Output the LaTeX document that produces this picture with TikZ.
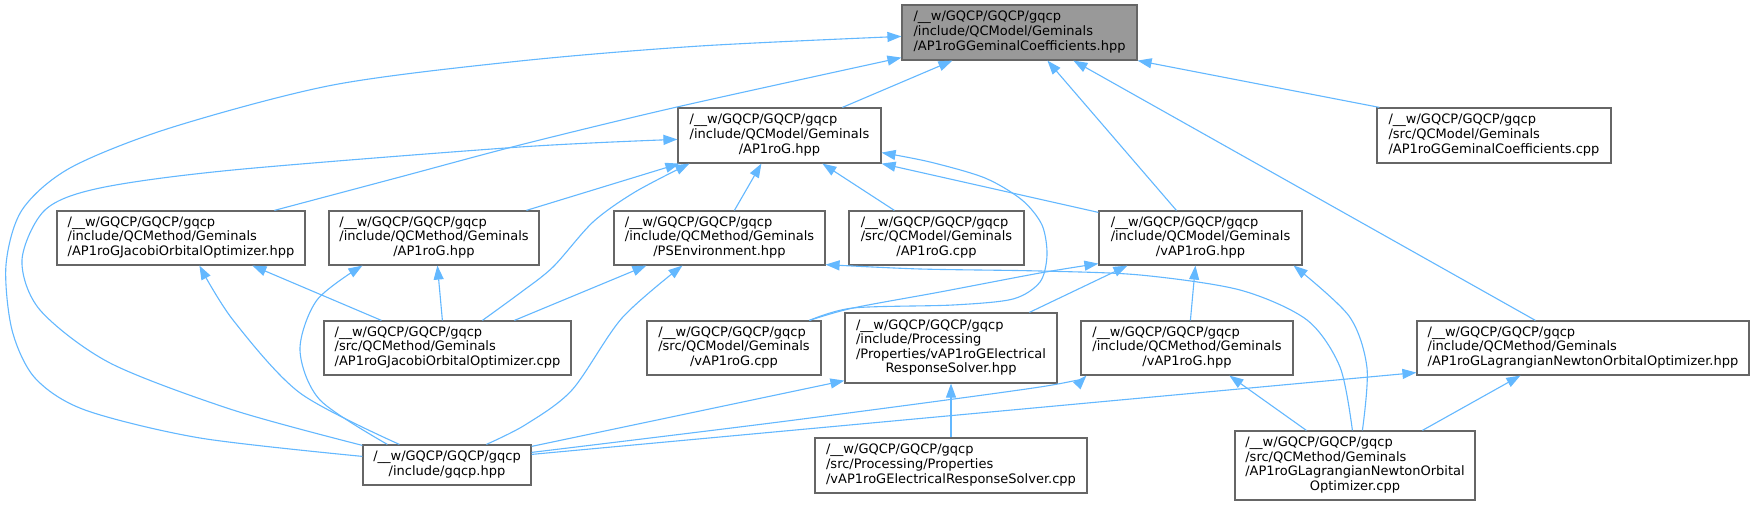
\documentclass[tikz,border=0pt]{standalone}
\usepackage{fontspec}
\setmainfont{DejaVu Sans}
\usetikzlibrary{arrows.meta,calc}
\definecolor{edgeblue}{HTML}{63B8FF}
\definecolor{boxgray}{HTML}{666666}
\definecolor{rootfill}{HTML}{999999}
\newcommand\mylbl[2]{\begin{tabular}{@{}l@{}}#1\\\multicolumn{1}{@{}c@{}}{#2}\end{tabular}}
\begin{document}
\begin{tikzpicture}[x=1pt,y=-1pt,
  box/.style={draw=boxgray, line width=1.2pt, fill=white, rectangle, inner sep=0pt,
    text=black, font=\fontsize{13}{14.6}\selectfont},
  edge/.style={draw=edgeblue, line width=1.1pt, -{Triangle[length=14pt,width=10pt]}}]
\fill[white] (0,0) rectangle (1754,505);
\useasboundingbox (0,0) rectangle (1754,505);
% nodes
\node[box, fill=rootfill, minimum width=235pt, minimum height=55pt] (root) at (1019.5,32.5)
  {\mylbl{/\_\_w/GQCP/GQCP/gqcp\\/include/QCModel/Geminals}{/AP1roGGeminalCoefficients.hpp}};
\node[box, minimum width=203pt, minimum height=55pt] (QMAP) at (779.5,135.5)
  {\mylbl{/\_\_w/GQCP/GQCP/gqcp\\/include/QCModel/Geminals}{/AP1roG.hpp}};
\node[box, minimum width=234pt, minimum height=55pt] (GCcpp) at (1494,135.5)
  {\mylbl{/\_\_w/GQCP/GQCP/gqcp\\/src/QCModel/Geminals}{/AP1roGGeminalCoefficients.cpp}};
\node[box, minimum width=248pt, minimum height=54pt] (JOhpp) at (181,238)
  {\mylbl{/\_\_w/GQCP/GQCP/gqcp\\/include/QCMethod/Geminals}{/AP1roGJacobiOrbitalOptimizer.hpp}};
\node[box, minimum width=210pt, minimum height=54pt] (MAPhpp) at (434,238)
  {\mylbl{/\_\_w/GQCP/GQCP/gqcp\\/include/QCMethod/Geminals}{/AP1roG.hpp}};
\node[box, minimum width=211pt, minimum height=54pt] (PSE) at (719.5,238)
  {\mylbl{/\_\_w/GQCP/GQCP/gqcp\\/include/QCMethod/Geminals}{/PSEnvironment.hpp}};
\node[box, minimum width=175pt, minimum height=54pt] (APcpp) at (936.5,238)
  {\mylbl{/\_\_w/GQCP/GQCP/gqcp\\/src/QCModel/Geminals}{/AP1roG.cpp}};
\node[box, minimum width=203pt, minimum height=54pt] (vQM) at (1200.5,238)
  {\mylbl{/\_\_w/GQCP/GQCP/gqcp\\/include/QCModel/Geminals}{/vAP1roG.hpp}};
\node[box, minimum width=247pt, minimum height=54pt] (JOcpp) at (447.5,348)
  {\mylbl{/\_\_w/GQCP/GQCP/gqcp\\/src/QCMethod/Geminals}{/AP1roGJacobiOrbitalOptimizer.cpp}};
\node[box, minimum width=174pt, minimum height=54pt] (vAPcpp) at (734,348)
  {\mylbl{/\_\_w/GQCP/GQCP/gqcp\\/src/QCModel/Geminals}{/vAP1roG.cpp}};
\node[box, minimum width=212pt, minimum height=70pt] (ERhpp) at (951,348)
  {\mylbl{/\_\_w/GQCP/GQCP/gqcp\\/include/Processing\\/Properties/vAP1roGElectrical}{ResponseSolver.hpp}};
\node[box, minimum width=212pt, minimum height=54pt] (vMeth) at (1187,348)
  {\mylbl{/\_\_w/GQCP/GQCP/gqcp\\/include/QCMethod/Geminals}{/vAP1roG.hpp}};
\node[box, minimum width=332pt, minimum height=54pt] (LNhpp) at (1583,348)
  {\mylbl{/\_\_w/GQCP/GQCP/gqcp\\/include/QCMethod/Geminals}{/AP1roGLagrangianNewtonOrbitalOptimizer.hpp}};
\node[box, minimum width=168pt, minimum height=40pt] (gqcp) at (447,465)
  {\mylbl{/\_\_w/GQCP/GQCP/gqcp}{/include/gqcp.hpp}};
\node[box, minimum width=272pt, minimum height=55pt] (ERcpp) at (951,465.5)
  {\mylbl{/\_\_w/GQCP/GQCP/gqcp\\/src/Processing/Properties}{/vAP1roGElectricalResponseSolver.cpp}};
\node[box, minimum width=240pt, minimum height=69pt] (LNcpp) at (1355,465.5)
  {\mylbl{/\_\_w/GQCP/GQCP/gqcp\\/src/QCMethod/Geminals\\/AP1roGLagrangianNewtonOrbital}{Optimizer.cpp}};
% edges
\draw[edge] ($(QMAP.north west)+(165,0)$) -- ($(root.south west)+(51,0)$);
\draw[edge] plot[smooth] coordinates {($(gqcp.north west)+(0,12)$) (200,438) (85,410) (35,378) (12,330) (6,265) (22,210) (70,168) (170,128) (333,85) (520,61) (700,46) ($(root.north west)+(0,32)$)};
\draw[edge] plot[smooth] coordinates {($(gqcp.north west)+(0,1)$) (233,410) (110,363) (40,310) (22,260) (45,210) (100,188) (233,170) (520,147) ($(QMAP.north west)+(0,32)$)};
\draw[edge] plot[smooth] coordinates {($(JOhpp.north west)+(218,0)$) (400,177) (520,145) (677,107) ($(root.south west)+(0,-3)$)};
\draw[edge] ($(GCcpp.north west)+(3,0)$) -- (root.south east);
\draw[edge] ($(vQM.north west)+(78,0)$) -- ($(root.south west)+(146,0)$);
\draw[edge] ($(LNhpp.north west)+(119,0)$) -- ($(root.south west)+(172,0)$);
\draw[edge] ($(MAPhpp.north west)+(198,0)$) -- ($(QMAP.south west)+(2,0)$);
\draw[edge] plot[smooth] coordinates {($(JOcpp.north west)+(159,0)$) (520,293) (553,267) (593,222) (635,192) ($(QMAP.south west)+(12,0)$)};
\draw[edge] ($(PSE.north west)+(121,0)$) -- ($(QMAP.south west)+(84,0)$);
\draw[edge] ($(APcpp.north west)+(46,0)$) -- ($(QMAP.south west)+(145,0)$);
\draw[edge] ($(vQM.north west)+(0,2)$) -- (QMAP.south east);
\draw[edge] plot[smooth] coordinates {($(vAPcpp.north west)+(163,0)$) (853,308) (953,305) (1013,299) (1040,282) (1047,255) (1042,225) (1022,200) (985,178) (930,162) ($(QMAP.south east)+(0,-11)$)};
\draw[edge] plot[smooth] coordinates {($(vAPcpp.north west)+(163,0)$) (853,308) (940,292) (1040,273) ($(vQM.south west)+(0,-2)$)};
\draw[edge] ($(ERhpp.north west)+(185,0)$) -- ($(vQM.south west)+(29,0)$);
\draw[edge] ($(vMeth.north west)+(110,0)$) -- ($(vQM.south west)+(97,0)$);
\draw[edge] plot[smooth] coordinates {($(LNcpp.north west)+(128,0)$) (1367,368) (1349,316) ($(vQM.south east)+(-9,0)$)};
\draw[edge] plot[smooth] coordinates {($(LNcpp.north west)+(118,0)$) (1340,367) (1307,320) (1240,290) (1140,275) (1040,271) (920,269) ($(PSE.south east)+(0,-1)$)};
\draw[edge] ($(JOcpp.north west)+(58,0)$) -- ($(JOhpp.south west)+(196,0)$);
\draw[edge] ($(JOcpp.north west)+(119,0)$) -- ($(MAPhpp.south west)+(109,0)$);
\draw[edge] ($(JOcpp.north west)+(191,0)$) -- ($(PSE.south west)+(33,0)$);
\draw[edge] plot[smooth] coordinates {($(gqcp.north west)+(25,0)$) (320,400) (300,350) (317,300) ($(MAPhpp.south west)+(34,0)$)};
\draw[edge] plot[smooth] coordinates {($(gqcp.north west)+(37,0)$) (300,393) (233,320) ($(JOhpp.south west)+(143,0)$)};
\draw[edge] plot[smooth] coordinates {($(gqcp.north west)+(124,0)$) (525,425) (572,390) (622,318) ($(PSE.south west)+(69,0)$)};
\draw[edge] ($(gqcp.north east)+(0,2)$) -- ($(ERhpp.south west)+(0,-3)$);
\draw[edge] plot[smooth] coordinates {($(gqcp.north east)+(0,8)$) (787,421) (1040,387) ($(vMeth.south west)+(6,0)$)};
\draw[edge] ($(gqcp.north east)+(0,10)$) -- ($(LNhpp.south west)+(0,-3)$);
\draw[edge] (ERcpp.north) -- (ERhpp.south);
\draw[edge] ($(LNcpp.north west)+(72,0)$) -- ($(vMeth.south west)+(149,0)$);
\draw[edge] ($(LNcpp.north west)+(188,0)$) -- ($(LNhpp.south west)+(104,0)$);
\end{tikzpicture}
\end{document}
